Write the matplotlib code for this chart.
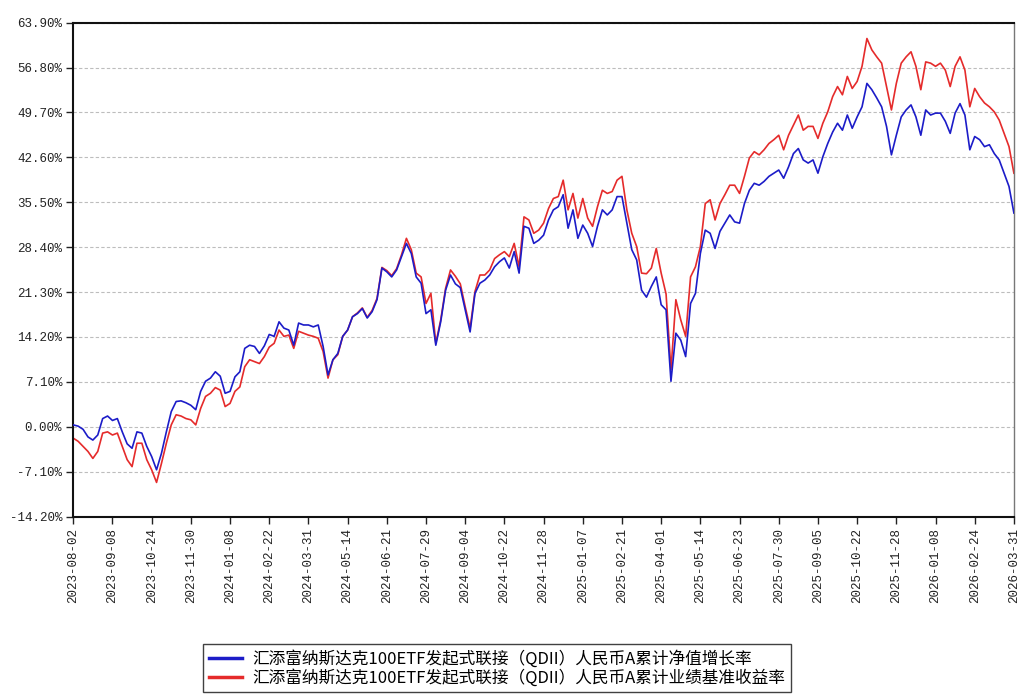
import matplotlib
matplotlib.use("Agg")
import matplotlib.pyplot as plt
import numpy as np

# Tick dates (x axis, evenly spaced on trading-day axis)
tick_dates = ["2023-08-02", "2023-09-08", "2023-10-24", "2023-11-30", "2024-01-08",
              "2024-02-22", "2024-03-31", "2024-05-14", "2024-06-21", "2024-07-29",
              "2024-09-04", "2024-10-22", "2024-11-28", "2025-01-07", "2025-02-21",
              "2025-04-01", "2025-05-14", "2025-06-23", "2025-07-30", "2025-09-05",
              "2025-10-22", "2025-11-28", "2026-01-08", "2026-02-24", "2026-03-31"]

# samples per tick interval
samples_per_tick = 8

# 累计净值增长率 (%)
nav_growth = [
    0.3, 0.1, -0.4, -1.6, -2.1, -1.3, 1.3, 1.7, 1.0, 1.3,
    -0.8, -2.7, -3.4, -0.8, -1.0, -3.1, -4.7, -6.8, -4.2, -0.8,
    2.4, 4.0, 4.1, 3.8, 3.4, 2.7, 5.6, 7.2, 7.7, 8.7,
    8.0, 5.3, 5.6, 7.9, 8.7, 12.4, 12.9, 12.7, 11.6, 12.8,
    14.6, 14.3, 16.6, 15.6, 15.3, 12.9, 16.4, 16.1, 16.1, 15.8,
    16.1, 12.7, 8.2, 10.6, 11.6, 14.3, 15.3, 17.4, 17.9, 18.7,
    17.2, 18.2, 20.1, 25.1, 24.5, 23.7, 24.8, 26.9, 29.0, 27.4,
    23.7, 22.7, 17.9, 18.5, 12.9, 16.6, 21.6, 24.0, 22.6, 22.0,
    18.5, 15.0, 21.1, 22.7, 23.2, 24.0, 25.3, 26.1, 26.7, 25.1,
    27.7, 24.3, 31.7, 31.4, 29.0, 29.5, 30.3, 32.7, 34.3, 34.8,
    36.7, 31.4, 34.3, 29.8, 31.9, 30.6, 28.5, 31.7, 34.3, 33.5,
    34.3, 36.4, 36.4, 32.2, 28.0, 26.4, 21.6, 20.5, 22.2, 23.7,
    19.3, 18.5, 7.2, 14.8, 13.7, 11.1, 19.5, 21.1, 27.4, 31.1,
    30.6, 28.2, 30.9, 32.2, 33.5, 32.4, 32.2, 35.3, 37.4, 38.5,
    38.2, 38.8, 39.6, 40.1, 40.6, 39.3, 41.1, 43.2, 44.0, 42.2,
    41.7, 42.2, 40.1, 42.7, 44.8, 46.6, 48.0, 46.9, 49.3, 47.2,
    49.0, 50.6, 54.3, 53.3, 52.0, 50.6, 47.5, 43.0, 46.1, 49.0,
    50.1, 50.9, 49.0, 46.1, 50.1, 49.3, 49.6, 49.6, 48.3, 46.4,
    49.6, 51.1, 49.3, 43.8, 45.9, 45.4, 44.3, 44.6, 43.2, 42.2,
    40.1, 38.0, 33.8,
]

# 累计业绩基准收益率 (%)
benchmark_return = [
    -1.8, -2.3, -3.1, -3.9, -5.0, -3.9, -1.0, -0.8, -1.3, -1.0,
    -3.1, -5.2, -6.3, -2.6, -2.6, -5.2, -6.8, -8.8, -5.8, -2.6,
    0.3, 1.9, 1.7, 1.3, 1.1, 0.3, 2.9, 4.8, 5.3, 6.2,
    5.8, 3.2, 3.7, 5.6, 6.3, 9.5, 10.6, 10.3, 10.0, 11.1,
    12.6, 13.2, 15.3, 14.3, 14.5, 12.4, 15.1, 14.8, 14.5, 14.3,
    14.0, 11.9, 7.7, 10.6, 11.4, 14.3, 15.3, 17.4, 18.0, 18.8,
    17.3, 18.4, 20.3, 25.2, 24.7, 23.9, 25.0, 27.2, 29.8, 28.0,
    24.3, 23.7, 19.5, 21.1, 13.2, 16.9, 21.9, 24.8, 23.8, 22.6,
    19.0, 15.6, 21.4, 24.0, 24.0, 24.8, 26.6, 27.2, 27.7, 26.9,
    29.0, 25.3, 33.2, 32.7, 30.6, 31.1, 32.2, 34.5, 36.1, 36.4,
    39.0, 34.3, 36.9, 33.0, 36.1, 33.0, 31.7, 34.8, 37.4, 36.9,
    37.2, 39.0, 39.6, 34.3, 30.6, 28.5, 24.3, 24.2, 25.1, 28.2,
    24.3, 21.0, 9.0, 20.1, 16.9, 14.3, 23.7, 25.3, 28.5, 35.3,
    35.9, 32.7, 35.3, 36.7, 38.2, 38.2, 36.9, 39.6, 42.5, 43.5,
    43.0, 43.8, 44.8, 45.4, 46.1, 43.8, 46.1, 47.7, 49.3, 46.9,
    47.5, 47.5, 45.6, 48.0, 49.8, 52.2, 53.8, 52.5, 55.4, 53.5,
    54.6, 57.0, 61.4, 59.6, 58.5, 57.5, 53.8, 50.1, 54.3, 57.5,
    58.5, 59.3, 57.0, 53.3, 57.7, 57.5, 57.0, 57.5, 56.4, 53.8,
    57.0, 58.5, 56.4, 50.6, 53.5, 52.2, 51.2, 50.6, 49.8, 48.5,
    46.4, 44.3, 40.1,
]

y_ticks = [-14.20, -7.10, 0.00, 7.10, 14.20, 21.30, 28.40, 35.50, 42.60, 49.70, 56.80, 63.90]

series_labels = ["汇添富纳斯达克100ETF发起式联接（QDII）人民币A累计净值增长率",
                 "汇添富纳斯达克100ETF发起式联接（QDII）人民币A累计业绩基准收益率"]

blue = "#1c1cc8"
red = "#e52b2b"

fig = plt.figure(figsize=(10.19, 6.98), dpi=100)
ax = fig.add_axes([0.0719, 0.2599, 0.9231, 0.7076])

x = np.arange(len(nav_growth))
ax.plot(x, nav_growth, color=blue, lw=1.2, label=series_labels[0], zorder=3)
ax.plot(x, benchmark_return, color=red, lw=1.2, label=series_labels[1], zorder=2)

ax.set_xlim(0, (len(tick_dates) - 1) * samples_per_tick)
ax.set_ylim(y_ticks[0], y_ticks[-1])

ax.set_yticks(y_ticks)
ax.set_yticklabels([f"{v:.2f}%" for v in y_ticks], fontfamily="Liberation Mono", fontsize=9, color="#222222")
ax.set_xticks(np.arange(len(tick_dates)) * samples_per_tick)
ax.set_xticklabels(tick_dates, rotation=90, fontfamily="Liberation Mono", fontsize=9, color="#222222")

ax.tick_params(axis="both", direction="out", length=5, width=1, colors="#222222", pad=3)
ax.yaxis.grid(True, linestyle=(0, (3, 2)), color="#bdbdbd", lw=0.8)
ax.set_axisbelow(True)

for side in ["left", "bottom", "top"]:
    ax.spines[side].set_linewidth(1.5)
    ax.spines[side].set_color("#111111")
ax.spines["right"].set_linewidth(1.0)
ax.spines["right"].set_color("#777777")

leg = fig.legend(loc="upper left", bbox_to_anchor=(0.199, 0.077), ncol=1,
                 prop={"family": ["Noto Sans CJK SC", "DejaVu Sans"], "size": 12},
                 frameon=True, fancybox=False, edgecolor="#111111",
                 handlelength=2.0, handletextpad=0.6, borderpad=0.35,
                 labelspacing=0.05, borderaxespad=0)
leg.get_frame().set_linewidth(1.0)
for line in leg.get_lines():
    line.set_linewidth(2.5)

fig.savefig("out.png", dpi=100, facecolor="white")
